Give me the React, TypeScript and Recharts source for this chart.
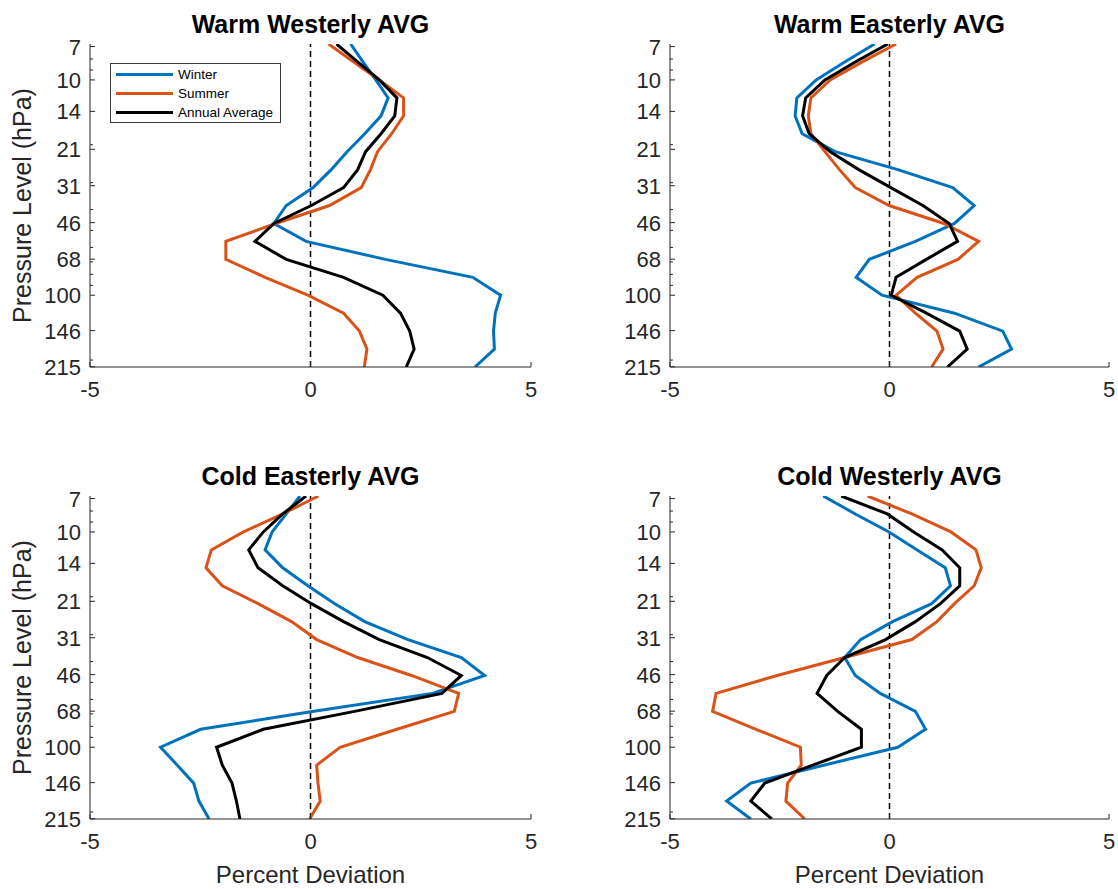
import React from 'react';
import { LineChart, Line, XAxis, YAxis, ReferenceLine, Legend } from 'recharts';

// Pressure levels (hPa) of the profile vertices, top to bottom
const levels = [6.81, 8.25, 10, 12.12, 14.68, 17.78, 21.54, 26.1, 31.62, 38.31, 46.42, 56.23, 68.13, 82.54, 100, 121.15, 146.78, 177.83, 215.44];

// Axis ticks
const yTicks = [7, 10, 14, 21, 31, 46, 68, 100, 146, 215];
const yMinorTicks = [8, 9, 20, 30, 40, 50, 60, 70, 80, 90, 200];
const xTicks = [-5, 0, 5];

const seriesNames = ['Winter', 'Summer', 'Annual Average'];
const seriesKeys = ['winter', 'summer', 'annual'];
const seriesColors = ['#0072BD', '#D95319', '#000000'];

const panelTitles = ['Warm Westerly AVG', 'Warm Easterly AVG', 'Cold Easterly AVG', 'Cold Westerly AVG'];

// Warm Westerly
const warmWesterlyWinter = [0.91, 1.19, 1.48, 1.76, 1.6, 1.23, 0.83, 0.47, 0.06, -0.55, -0.83, -0.1, 1.7, 3.68, 4.31, 4.19, 4.15, 4.17, 3.73];
const warmWesterlySummer = [0.41, 0.98, 1.56, 2.11, 2.11, 1.84, 1.52, 1.36, 1.15, 0.43, -0.79, -1.92, -1.92, -1.03, -0.06, 0.75, 1.11, 1.28, 1.22];
const warmWesterlyAnnual = [0.59, 1.07, 1.56, 1.96, 1.91, 1.6, 1.25, 1.07, 0.75, 0.02, -0.83, -1.26, -0.55, 0.75, 1.64, 2.04, 2.25, 2.35, 2.17];

// Warm Easterly
const warmEasterlyWinter = [-0.34, -1.02, -1.67, -2.11, -2.15, -1.99, -1.24, 0.19, 1.44, 1.93, 1.48, 0.59, -0.46, -0.76, -0.17, 1.48, 2.58, 2.78, 2.03];
const warmEasterlySummer = [0.15, -0.62, -1.35, -1.79, -1.85, -1.79, -1.47, -1.14, -0.78, -0.01, 1.24, 2.03, 1.56, 0.63, 0.15, 0.59, 1.08, 1.22, 0.96];
const warmEasterlyAnnual = [-0.04, -0.78, -1.47, -1.91, -1.98, -1.83, -1.35, -0.7, 0.03, 0.76, 1.36, 1.55, 0.84, 0.15, 0.04, 0.84, 1.6, 1.77, 1.32];

// Cold Easterly
const coldEasterlyWinter = [-0.24, -0.55, -0.87, -1.03, -0.63, -0.06, 0.55, 1.23, 2.21, 3.42, 3.95, 2.77, 0.08, -2.49, -3.4, -3.02, -2.65, -2.53, -2.3];
const coldEasterlySummer = [0.18, -0.63, -1.52, -2.25, -2.37, -2.0, -1.19, -0.43, 0.14, 1.07, 2.29, 3.36, 3.26, 1.96, 0.67, 0.14, 0.17, 0.22, -0.02];
const coldEasterlyAnnual = [-0.1, -0.63, -1.07, -1.4, -1.19, -0.63, 0.02, 0.75, 1.56, 2.65, 3.42, 2.98, 1.0, -1.07, -2.13, -2.0, -1.78, -1.68, -1.6];

// Cold Westerly
const coldWesterlyWinter = [-1.51, -0.78, -0.01, 0.63, 1.27, 1.39, 0.96, 0.07, -0.66, -1.02, -0.78, -0.21, 0.59, 0.82, 0.19, -1.5, -3.16, -3.71, -3.16];
const coldWesterlySummer = [-0.5, 0.51, 1.4, 1.97, 2.09, 1.93, 1.48, 1.08, 0.51, -1.02, -2.56, -3.95, -4.03, -3.04, -2.03, -2.01, -2.32, -2.36, -1.93];
const coldWesterlyAnnual = [-1.1, -0.05, 0.55, 1.2, 1.6, 1.6, 1.16, 0.59, -0.09, -1.02, -1.43, -1.65, -1.18, -0.64, -0.64, -1.75, -2.84, -3.16, -2.68];

const panelSeries = [
  [warmWesterlyWinter, warmWesterlySummer, warmWesterlyAnnual],
  [warmEasterlyWinter, warmEasterlySummer, warmEasterlyAnnual],
  [coldEasterlyWinter, coldEasterlySummer, coldEasterlyAnnual],
  [coldWesterlyWinter, coldWesterlySummer, coldWesterlyAnnual],
];

const buildRows = (series: number[][]) =>
  levels.map((p, i) => ({ p, winter: series[0][i], summer: series[1][i], annual: series[2][i] }));

// Layout (page pixels)
const FONT = '"Liberation Sans", Arial, Helvetica, sans-serif';
const AXIS = '#262626';
const AXIS_X = 90; // chart-local plot left
const PLOT_TOP = 44; // chart-local plot top
const PLOT_H = 323;
const PLOT_BOTTOM = PLOT_TOP + PLOT_H;
const RIGHT_PAD = 9;
const panelLayout = [
  { left: 0, top: 0, plotW: 441, yLabel: true, xLabel: false, legend: true },
  { left: 580, top: 0, plotW: 439, yLabel: false, xLabel: false, legend: false },
  { left: 0, top: 452, plotW: 441, yLabel: true, xLabel: true, legend: false },
  { left: 580, top: 452, plotW: 439, yLabel: false, xLabel: true, legend: false },
];

const renderYTick = (props: any) => {
  const { y, payload } = props;
  const v = payload.value;
  const major = yTicks.includes(v);
  return (
    <g>
      <line x1={AXIS_X} x2={AXIS_X + (major ? 5 : 3)} y1={y} y2={y} stroke={AXIS} strokeWidth={1} />
      {major && (
        <text x={AXIS_X - 9} y={y + 8} textAnchor="end" fontSize={22} fill={AXIS} fontFamily={FONT}>
          {String(v)}
        </text>
      )}
    </g>
  );
};

const renderXTick = (props: any) => {
  const { x, payload } = props;
  return (
    <g>
      <line x1={x} x2={x} y1={PLOT_BOTTOM} y2={PLOT_BOTTOM - 5} stroke={AXIS} strokeWidth={1} />
      <text x={x} y={PLOT_BOTTOM + 30} textAnchor="middle" fontSize={22} fill={AXIS} fontFamily={FONT}>
        {String(payload.value)}
      </text>
    </g>
  );
};

const renderLegend = (props: any) => {
  const items = (props.payload || [])
    .slice()
    .sort((a: any, b: any) => seriesNames.indexOf(a.value) - seriesNames.indexOf(b.value));
  return (
    <div
      style={{
        border: '1px solid #3a3a3a',
        background: '#fff',
        width: 169,
        height: 57,
        boxSizing: 'content-box',
        paddingTop: 1,
      }}
    >
      {items.map((e: any) => (
        <div key={e.value} style={{ display: 'flex', alignItems: 'center', height: 19 }}>
          <div style={{ width: 57, height: 3, background: e.color, marginLeft: 5 }} />
          <span style={{ marginLeft: 5, fontSize: 13.5, fontFamily: FONT, color: '#000', lineHeight: '19px' }}>
            {e.value}
          </span>
        </div>
      ))}
    </div>
  );
};

function Panel({ index }: { index: number }) {
  const lay = panelLayout[index];
  const rows = buildRows(panelSeries[index]);
  const width = AXIS_X + lay.plotW + RIGHT_PAD;
  const height = PLOT_BOTTOM + 40;
  return (
    <div style={{ position: 'absolute', left: lay.left, top: lay.top }}>
      <LineChart
        width={width}
        height={height}
        data={rows}
        layout="vertical"
        margin={{ top: PLOT_TOP, right: RIGHT_PAD, bottom: 10, left: 10 }}
      >
        <XAxis
          type="number"
          domain={[-5, 5]}
          ticks={xTicks}
          allowDataOverflow
          interval={0}
          height={30}
          axisLine={{ stroke: AXIS, strokeWidth: 1 }}
          tickLine={false}
          tick={renderXTick}
        />
        <YAxis
          type="number"
          dataKey="p"
          scale="log"
          domain={[6.81, 215.44]}
          allowDataOverflow
          ticks={[...yTicks, ...yMinorTicks]}
          interval={0}
          width={80}
          axisLine={{ stroke: AXIS, strokeWidth: 1 }}
          tickLine={false}
          tick={renderYTick}
        />
        <ReferenceLine x={0} stroke="#000" strokeWidth={1.5} strokeDasharray="6 4" />
        {seriesKeys.map((k, i) => (
          <Line
            key={k}
            type="linear"
            dataKey={k}
            name={seriesNames[i]}
            stroke={seriesColors[i]}
            strokeWidth={3}
            dot={false}
            activeDot={false}
            isAnimationActive={false}
          />
        ))}
        {lay.legend && (
          <Legend
            layout="vertical"
            align="center"
            verticalAlign="middle"
            wrapperStyle={{ left: 110, top: 63, width: 171, height: 59 }}
            content={renderLegend}
          />
        )}
      </LineChart>
    </div>
  );
}

export default function App() {
  return (
    <div
      style={{
        position: 'absolute',
        left: 0,
        top: 0,
        width: 1118,
        height: 889,
        background: '#fff',
        overflow: 'hidden',
        fontFamily: FONT,
      }}
    >
      {panelLayout.map((_, i) => (
        <Panel key={i} index={i} />
      ))}
      <svg
        width={1118}
        height={889}
        style={{ position: 'absolute', left: 0, top: 0, pointerEvents: 'none' }}
      >
        {panelLayout.map((lay, i) => {
          const cx = lay.left + AXIS_X + lay.plotW / 2;
          const top = lay.top + PLOT_TOP;
          return (
            <g key={i}>
              <text x={cx} y={top - 11} textAnchor="middle" fontSize={25} fontWeight="bold" fill="#000" fontFamily={FONT}>
                {panelTitles[i]}
              </text>
              {lay.yLabel && (
                <text
                  transform={`translate(31, ${top + PLOT_H / 2}) rotate(-90)`}
                  textAnchor="middle"
                  fontSize={25}
                  fill={AXIS}
                  fontFamily={FONT}
                >
                  Pressure Level (hPa)
                </text>
              )}
              {lay.xLabel && (
                <text x={cx} y={lay.top + PLOT_BOTTOM + 64} textAnchor="middle" fontSize={24} fill={AXIS} fontFamily={FONT}>
                  Percent Deviation
                </text>
              )}
            </g>
          );
        })}
      </svg>
    </div>
  );
}
